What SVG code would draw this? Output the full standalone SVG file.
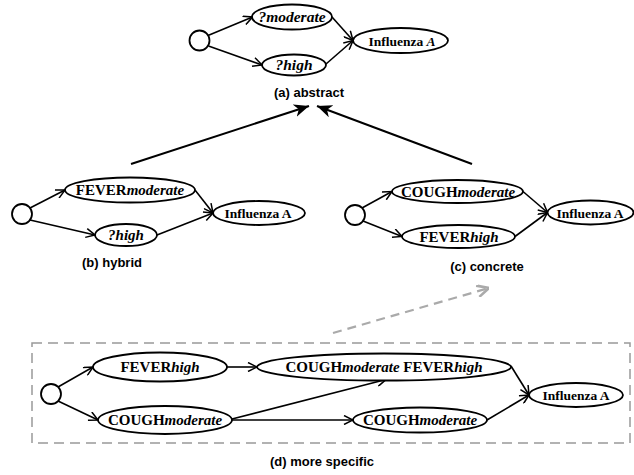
<svg xmlns="http://www.w3.org/2000/svg" width="634" height="475" viewBox="0 0 634 475">
<defs>
<style>
.n{fill:#fff;stroke:#000;stroke-width:1.8}
.t{font-family:"Liberation Serif","Times New Roman",serif;font-weight:bold;font-size:15px;fill:#000;text-anchor:middle}
.ti{font-style:italic}
.inf{font-size:13.5px}
.lbl{font-family:"Liberation Sans",Arial,sans-serif;font-weight:bold;font-size:13px;fill:#000;text-anchor:middle}
.c{fill:none;stroke:#000;stroke-width:1.6}
.big{fill:none;stroke:#000;stroke-width:2}
.gr{fill:none;stroke:#aaa;stroke-width:2.2;stroke-dasharray:9 6}
</style>
<marker id="ar" viewBox="0 0 10 10" refX="10" refY="5" markerWidth="10" markerHeight="10" markerUnits="userSpaceOnUse" orient="auto">
<path d="M1,0.5 L10,5 L1,9.5" fill="none" stroke="#000" stroke-width="1.5"/>
</marker>
<marker id="fa" viewBox="0 0 14 12" refX="14" refY="6" markerWidth="15" markerHeight="13" markerUnits="userSpaceOnUse" orient="auto">
<path d="M0,0 L14,6 L0,12 L4,6 z" fill="#000"/>
</marker>
<marker id="ga" viewBox="0 0 10 10" refX="10" refY="5" markerWidth="13" markerHeight="13" markerUnits="userSpaceOnUse" orient="auto">
<path d="M1,0.5 L10,5 L1,9.5" fill="none" stroke="#aaa" stroke-width="2"/>
</marker>
</defs>
<rect width="634" height="475" fill="#fff"/>

<g id="connectors">
<!-- (a) -->
<path class="c" d="M208,35.5 L252.5,17" marker-end="url(#ar)"/>
<path class="c" d="M208.5,46 L262,65" marker-end="url(#ar)"/>
<path class="c" d="M332,17 L353,40.5" marker-end="url(#ar)"/>
<path class="c" d="M326,64 L353,40.5" marker-end="url(#ar)"/>
<!-- (b) -->
<path class="c" d="M30,208 L65,190" marker-end="url(#ar)"/>
<path class="c" d="M30,220 L95,235" marker-end="url(#ar)"/>
<path class="c" d="M195,190 L213,213" marker-end="url(#ar)"/>
<path class="c" d="M157,235 L213,213" marker-end="url(#ar)"/>
<!-- (c) -->
<path class="c" d="M362,208 L392,191.5" marker-end="url(#ar)"/>
<path class="c" d="M363,221 L402,236.5" marker-end="url(#ar)"/>
<path class="c" d="M523,191.5 L547.5,212.5" marker-end="url(#ar)"/>
<path class="c" d="M515,236.5 L547.5,212.5" marker-end="url(#ar)"/>
<!-- generalisation arrows -->
<path class="big" d="M131,164 L309,106" marker-end="url(#fa)"/>
<path class="big" d="M472,164 L317,106" marker-end="url(#fa)"/>
<!-- (d) -->
<path class="c" d="M58,387 L93,367" marker-end="url(#ar)"/>
<path class="c" d="M58,401 L98,420" marker-end="url(#ar)"/>
<path class="c" d="M227,367 L257,367" marker-end="url(#ar)"/>
<path class="c" d="M232,419 L386,379.5" marker-end="url(#ar)"/>
<path class="c" d="M232,420 L353,420" marker-end="url(#ar)"/>
<path class="c" d="M511,366 L529,395" marker-end="url(#ar)"/>
<path class="c" d="M487,420 L529,395" marker-end="url(#ar)"/>
<path class="gr" d="M333,333 L489,288" marker-end="url(#ga)"/>
</g>

<!-- (a) abstract -->
<g id="a-start"><circle class="n" cx="199.5" cy="40.5" r="10"/></g>
<g id="a-moderate"><ellipse class="n" cx="292" cy="17" rx="40" ry="12.5"/><text class="t ti" x="292" y="22" style="font-size:15.5px">?moderate</text></g>
<g id="a-high"><ellipse class="n" cx="294" cy="65" rx="32" ry="10.5"/><text class="t ti" x="294" y="70" style="font-size:15.5px">?high</text></g>
<g id="a-flu"><ellipse class="n" cx="400.5" cy="40.5" rx="47.5" ry="12.5"/><text class="t inf" x="402" y="45.5">Influenza <tspan class="ti">A</tspan></text></g>
<text class="lbl" x="309" y="97">(a) abstract</text>

<!-- (b) hybrid -->
<g id="b-start"><circle class="n" cx="22" cy="214" r="10"/></g>
<g id="b-fever"><ellipse class="n" cx="130" cy="190" rx="65" ry="12.5"/><text class="t" x="130" y="195">FEVER<tspan class="ti">moderate</tspan></text></g>
<g id="b-high"><ellipse class="n" cx="126" cy="235" rx="31" ry="11"/><text class="t ti" x="126" y="240">?high</text></g>
<g id="b-flu"><ellipse class="n" cx="259" cy="213" rx="46" ry="12"/><text class="t inf" x="258" y="218">Influenza A</text></g>
<text class="lbl" x="112" y="267">(b) hybrid</text>

<!-- (c) concrete -->
<g id="c-start"><circle class="n" cx="355" cy="215" r="10"/></g>
<g id="c-cough"><ellipse class="n" cx="457.5" cy="191.5" rx="65.5" ry="11.5"/><text class="t" x="458" y="196.5">COUGH<tspan class="ti">moderate</tspan></text></g>
<g id="c-fever"><ellipse class="n" cx="458.5" cy="236.5" rx="56.5" ry="11.5"/><text class="t" x="459" y="241.5">FEVER<tspan class="ti">high</tspan></text></g>
<g id="c-flu"><ellipse class="n" cx="590.5" cy="212.5" rx="43" ry="12"/><text class="t inf" x="590" y="217.5">Influenza A</text></g>
<text class="lbl" x="487" y="271">(c) concrete</text>

<!-- (d) more specific -->
<rect x="32" y="343" width="598" height="100" fill="none" stroke="#999" stroke-width="1.5" stroke-dasharray="10 6"/>
<g id="d-start"><circle class="n" cx="51" cy="394" r="10"/></g>
<g id="d-fever"><ellipse class="n" cx="160" cy="367" rx="67" ry="14.5"/><text class="t" x="160" y="372">FEVER<tspan class="ti">high</tspan></text></g>
<g id="d-cough"><ellipse class="n" cx="165" cy="420" rx="67" ry="14"/><text class="t" x="165" y="425">COUGH<tspan class="ti">moderate</tspan></text></g>
<g id="d-both"><ellipse class="n" cx="384" cy="367" rx="127" ry="13.5"/><text class="t" x="384" y="372">COUGH<tspan class="ti">moderate</tspan> FEVER<tspan class="ti">high</tspan></text></g>
<g id="d-cough2"><ellipse class="n" cx="420" cy="420" rx="67" ry="12.5"/><text class="t" x="420" y="425">COUGH<tspan class="ti">moderate</tspan></text></g>
<g id="d-flu"><ellipse class="n" cx="576" cy="395" rx="47" ry="12"/><text class="t inf" x="576" y="400">Influenza A</text></g>
<text class="lbl" x="322" y="466">(d) more specific</text>
</svg>
